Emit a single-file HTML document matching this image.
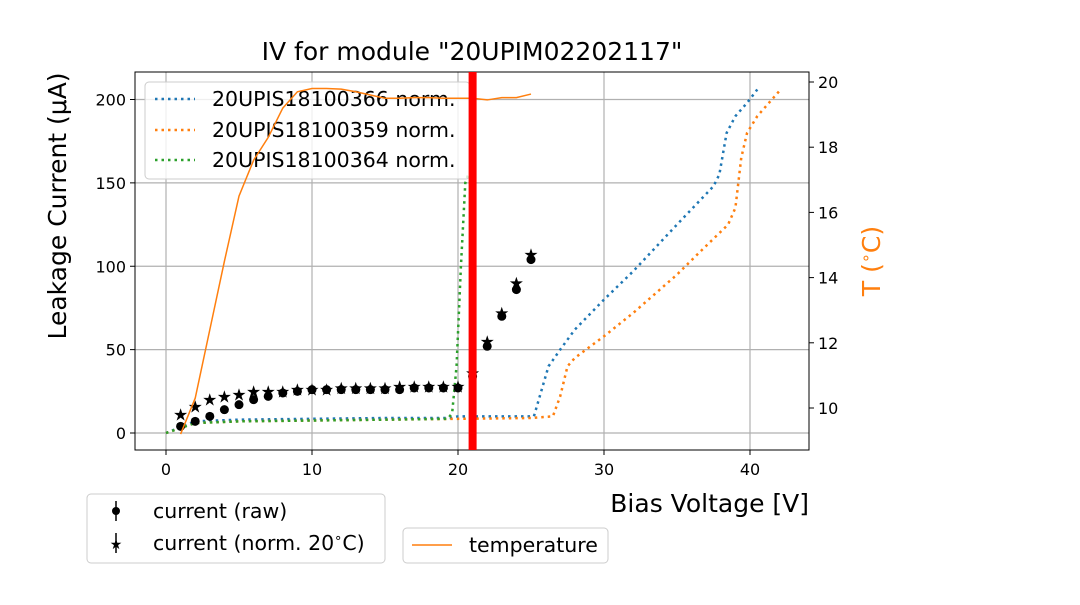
<!DOCTYPE html>
<html><head><meta charset="utf-8"><style>
body{margin:0;background:#fff}
svg text{font-family:"DejaVu Sans","Liberation Sans",sans-serif}
</style></head><body>
<svg id="c" width="1080" height="600" xmlns="http://www.w3.org/2000/svg">
<rect width="1080" height="600" fill="#fff"/>
<g id="grid"></g>
<g id="series"></g>
<rect x="135" y="72" width="674" height="378" fill="none" stroke="#000" stroke-width="1"/>
<g id="ticks"></g>
<text x="472" y="60" font-size="25" text-anchor="middle">IV for module "20UPIM02202117"</text>
<text x="809" y="512" font-size="25" text-anchor="end">Bias Voltage [V]</text>
<text transform="translate(66,206) rotate(-90)" font-size="25" text-anchor="middle">Leakage Current (μA)</text>
<text transform="translate(880,261) rotate(-90)" font-size="25" fill="#ff7f0e" text-anchor="middle">T (<tspan font-size="16" dy="-9">∘</tspan><tspan dy="9">C)</tspan></text>
<g>
<rect x="145" y="82" width="325" height="97" rx="4" fill="#fff" fill-opacity="0.8" stroke="#ccc"/>
<line x1="155" y1="99" x2="195" y2="99" stroke="#1f77b4" stroke-width="2.5" stroke-dasharray="2.5,4"/>
<text x="212" y="106" font-size="20.5">20UPIS18100366 norm.</text>
<line x1="155" y1="130" x2="195" y2="130" stroke="#ff7f0e" stroke-width="2.5" stroke-dasharray="2.5,4"/>
<text x="212" y="137" font-size="20.5">20UPIS18100359 norm.</text>
<line x1="155" y1="160" x2="195" y2="160" stroke="#2ca02c" stroke-width="2.5" stroke-dasharray="2.5,4"/>
<text x="212" y="167" font-size="20.5">20UPIS18100364 norm.</text>
</g>
<g id="topLayer"></g>
<g>
<rect x="87" y="494" width="298" height="69" rx="4" fill="#fff" stroke="#ccc"/>
<line x1="116" y1="501" x2="116" y2="521" stroke="#000" stroke-width="1.5"/><circle cx="116" cy="511" r="4"/>
<text x="153" y="518" font-size="20.5">current (raw)</text>
<line x1="116" y1="533" x2="116" y2="553" stroke="#000" stroke-width="1.5"/><text x="116" y="549" font-size="14" text-anchor="middle">★</text>
<text x="153" y="550" font-size="20.5">current (norm. 20<tspan font-size="13" dy="-8">∘</tspan><tspan dy="8">C)</tspan></text>
</g>
<g>
<rect x="403" y="528" width="205" height="35" rx="4" fill="#fff" stroke="#ccc"/>
<line x1="412" y1="545" x2="452" y2="545" stroke="#ff7f0e" stroke-width="1.5"/>
<text x="469" y="552" font-size="20.5">temperature</text>
</g>
</svg>
<script>
const xTicks=[0,10,20,30,40];
const yTicks=[0,50,100,150,200];
const y2Ticks=[10,12,14,16,18,20];
const vRaw=[1,2,3,4,5,6,7,8,9,10,11,12,13,14,15,16,17,18,19,20,21,22,23,24,25];
const iRaw=[4,7,10,14,17,20,22,24,25,26,26,26,26,26,26,26,27,27,27,27,34,52,70,86,104];
const iNorm=[11,16,20,22,23,25,25,25,26,26,26,27,27,27,27,28,28,28,28,28,36,55,72,90,107];
const tempV=[1,2,3,4,5,6,7,8,9,10,11,12,13,14,15,16,17,18,19,20,21,22,23,24,25];
const tempC=[9.2,10.3,12.4,14.5,16.5,17.6,18.3,19.2,19.7,19.8,19.8,19.78,19.7,19.6,19.5,19.5,19.52,19.52,19.5,19.5,19.5,19.45,19.52,19.52,19.63];
const blueV=[0,2,5,10,15,19.5,20,25.2,25.7,26.2,27,28,30,32,35,37.5,37.9,38.4,39,39.8,40.5];
const blueI=[0,7,8,8.5,9,9,10,10,25,40,50,62,80,97,125,148,155,180,190,198,206];
const orangeV=[0,2,5,10,15,20,25,26.5,27,27.5,28,30,32,35,36.5,38.5,39,39.4,39.8,40.5,42];
const orangeI=[0,6,7,7.5,8,8.5,9,10,22,40,45,58,72,95,108,125,135,165,180,190,205];
const greenV=[0,1,2,5,10,15,19.3,19.6,19.9,20.2,20.5,20.7];
const greenI=[0,3,6,7,7.5,8,8.5,12,40,100,150,155];
const redLineV=21;

const X=v=>166+v*14.6;
const Y=i=>433-i*1.6675;
const Y2=t=>408-(t-10)*32.6;
const NS='http://www.w3.org/2000/svg';
function mk(tag,attrs,parent){const e=document.createElementNS(NS,tag);for(const k in attrs)e.setAttribute(k,attrs[k]);parent.appendChild(e);return e;}
const grid=document.getElementById('grid'),ticks=document.getElementById('ticks'),ser=document.getElementById('series'),topG=document.getElementById('topLayer');
xTicks.forEach(v=>{
 const l=mk('line',{x1:X(v),x2:X(v),y1:72,y2:450,stroke:'#b0b0b0','stroke-width':1.2},grid);
 
 
 mk('line',{x1:X(v),x2:X(v),y1:450,y2:455,stroke:'#000'},ticks);
 const t=mk('text',{x:X(v),y:475,'font-size':16,'text-anchor':'middle'},ticks);t.textContent=v;
 
 
});
yTicks.forEach(v=>{
 const l=mk('line',{x1:135,x2:809,y1:Y(v),y2:Y(v),stroke:'#b0b0b0','stroke-width':1.2},grid);
 
 
 mk('line',{x1:130,x2:135,y1:Y(v),y2:Y(v),stroke:'#000'},ticks);
 const t=mk('text',{x:126,y:Y(v)+6,'font-size':16,'text-anchor':'end'},ticks);t.textContent=v;
 
 
});
y2Ticks.forEach(v=>{
 mk('line',{x1:809,x2:814,y1:Y2(v),y2:Y2(v),stroke:'#000'},ticks);
 const t=mk('text',{x:818,y:Y2(v)+6,'font-size':16},ticks);t.textContent=v;
 
 
});
function dotted(vs,is,color,name){
 const p=mk('polyline',{points:vs.map((v,k)=>X(v)+','+Y(is[k])).join(' '),fill:'none',stroke:color,'stroke-width':2.5,'stroke-dasharray':'2.5,4'},ser);
 
 
}
dotted(blueV,blueI,'#1f77b4','sensor-366-line');
dotted(orangeV,orangeI,'#ff7f0e','sensor-359-line');
dotted(greenV,greenI,'#2ca02c','sensor-364-line');
vRaw.forEach((v,k)=>{
 const c=mk('circle',{cx:X(v),cy:Y(iRaw[k]),r:4.5,fill:'#000'},ser);
 
 
 const s=mk('text',{x:X(v),y:Y(iNorm[k])+6,'font-size':17,'text-anchor':'middle'},ser);s.textContent='★';
 
 
});
const tl=mk('polyline',{points:tempV.map((v,k)=>X(v)+','+Y2(tempC[k])).join(' '),fill:'none',stroke:'#ff7f0e','stroke-width':1.5},topG);


const rl=mk('line',{x1:X(redLineV),x2:X(redLineV),y1:72,y2:450,stroke:'#ff0000','stroke-width':8},topG);


</script>
</body></html>
